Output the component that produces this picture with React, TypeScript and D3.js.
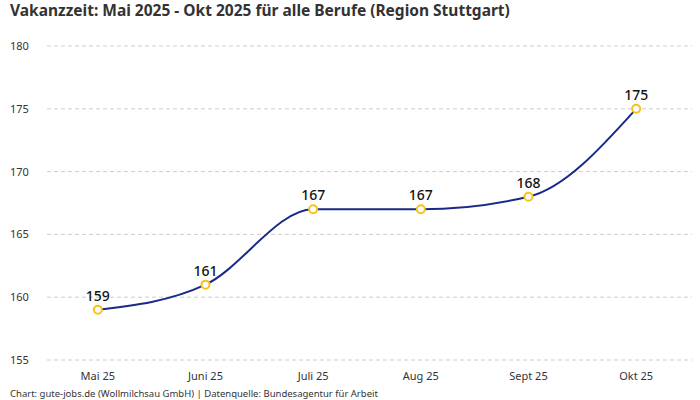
import React, { useEffect, useRef } from 'react';
import * as d3 from 'd3';

const months = ['Mai 25', 'Juni 25', 'Juli 25', 'Aug 25', 'Sept 25', 'Okt 25'];
const vacancyDays = [159, 161, 167, 167, 168, 175];
const yTicks = [155, 160, 165, 170, 175, 180];

const title = 'Vakanzzeit: Mai 2025 - Okt 2025 für alle Berufe (Region Stuttgart)';
const footer = 'Chart: gute-jobs.de (Wollmilchsau GmbH) | Datenquelle: Bundesagentur für Arbeit';

const App: React.FC = () => {
  const svgRef = useRef<SVGSVGElement>(null);

  useEffect(() => {
    const svg = d3.select(svgRef.current);
    svg.selectAll('*').remove();

    const width = 700;
    const height = 400;
    const font = "'Noto Sans', 'DejaVu Sans', sans-serif";

    svg.attr('width', width).attr('height', height).style('font-family', font);

    const x = d3.scaleBand().domain(months).range([44, 690]);
    const y = d3.scaleLinear().domain([155, 180]).range([360, 46]);
    const cx = (m: string) => x(m)! + x.bandwidth() / 2;

    // title
    svg.append('text')
      .attr('x', 10)
      .attr('y', 16)
      .attr('font-size', 15.5)
      .attr('font-weight', 700)
      .attr('fill', '#333')
      .text(title);

    // grid + y labels
    const grid = svg.append('g');
    yTicks.forEach(t => {
      grid.append('line')
        .attr('x1', 47).attr('x2', 692)
        .attr('y1', y(t)).attr('y2', y(t))
        .attr('stroke', '#ccc')
        .attr('stroke-dasharray', '4,3');
      grid.append('text')
        .attr('x', 10)
        .attr('y', y(t) + 4)
        .attr('font-size', 11)
        .attr('fill', '#333')
        .text(t);
    });

    // x labels
    svg.append('g').selectAll('text')
      .data(months)
      .enter().append('text')
      .attr('x', d => cx(d))
      .attr('y', 380)
      .attr('text-anchor', 'middle')
      .attr('font-size', 11)
      .attr('fill', '#333')
      .text(d => d);

    const pts: [number, number][] = months.map((m, i) => [cx(m), y(vacancyDays[i])]);

    const line = d3.line().curve(d3.curveMonotoneX);
    svg.append('path')
      .attr('d', line(pts))
      .attr('fill', 'none')
      .attr('stroke', '#1b2a8a')
      .attr('stroke-width', 2);

    svg.append('g').selectAll('circle')
      .data(pts)
      .enter().append('circle')
      .attr('cx', d => d[0])
      .attr('cy', d => d[1])
      .attr('r', 4)
      .attr('fill', '#fff')
      .attr('stroke', '#f7c318')
      .attr('stroke-width', 2);

    svg.append('g').selectAll('text')
      .data(pts)
      .enter().append('text')
      .attr('x', d => d[0])
      .attr('y', d => d[1] - 9)
      .attr('text-anchor', 'middle')
      .attr('font-size', 14)
      .attr('font-weight', 500)
      .attr('fill', '#111')
      .text((_, i) => vacancyDays[i]);

    svg.append('text')
      .attr('x', 10)
      .attr('y', 397)
      .attr('font-size', 9.5)
      .attr('fill', '#333')
      .text(footer);
  }, []);

  return (
    <div style={{ position: 'absolute', left: 0, top: 0 }}>
      <svg ref={svgRef}></svg>
    </div>
  );
};

export default App;
